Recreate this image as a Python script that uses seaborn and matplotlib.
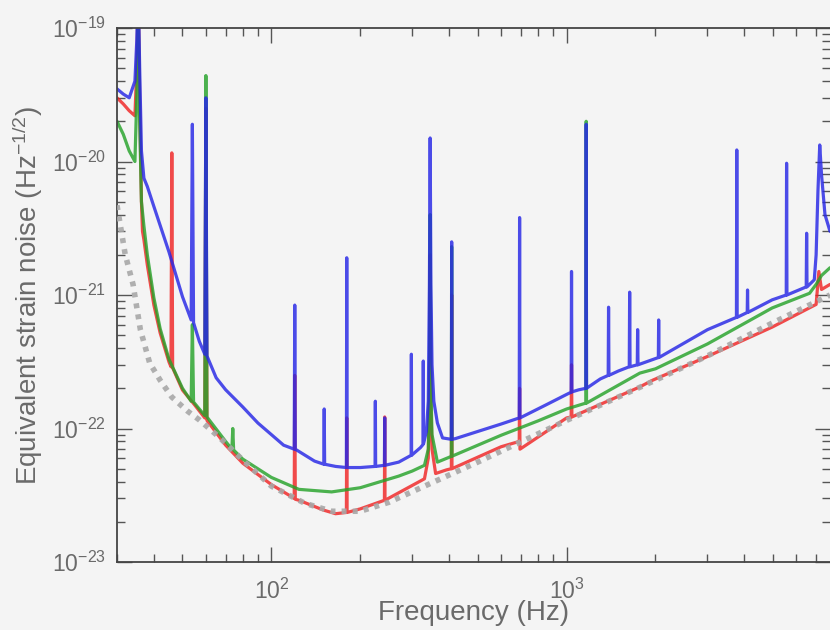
import numpy as np
import pandas as pd
import matplotlib
matplotlib.use("Agg")
import matplotlib.pyplot as plt
import seaborn as sns
from matplotlib.ticker import LogLocator, NullFormatter

# ---------------- data (Hz, strain / sqrt(Hz)) ----------------
blue_f = [30, 31.5, 33, 34.5, 35.0, 35.4, 35.8, 36.3, 37, 38, 40, 45, 50,
          53.5, 54, 54.5, 57, 59.5, 60, 60.5, 65, 70, 80, 90, 100, 110,
          119.5, 120, 120.5, 140, 150.5, 151, 151.5, 165, 179.5, 180, 180.5,
          200, 224.5, 225, 225.5, 241.5, 242, 242.5, 270, 297.5, 298, 298.5,
          320, 326.5, 327, 327.5, 335, 340, 343, 345, 347, 350, 355, 365, 380,
          407, 408, 409, 420, 500, 600, 691, 693, 695, 850, 1000, 1036, 1039,
          1042, 1100, 1162, 1165, 1168, 1300, 1383, 1387, 1391, 1500, 1630,
          1635, 1640, 1735, 1740, 1745, 2045, 2050, 2055, 3000, 3760, 3770,
          3780, 4090, 4100, 4110, 4970, 5545, 5560, 5575, 6480, 6500, 6520,
          6900, 7000, 7100, 7200, 7300, 7500, 7800]
blue_h = [3.5e-20, 3.2e-20, 3.0e-20, 4.0e-20, 8e-20, 2e-19, 5e-20, 1.2e-20,
          7.5e-21, 6.5e-21, 4.6e-21, 2.1e-21, 9.7e-22,
          6.5e-22, 1.9e-20, 6.2e-22, 4.5e-22, 3.6e-22, 3.0e-20, 3.5e-22,
          2.4e-22, 1.95e-22, 1.45e-22, 1.1e-22, 9e-23, 7.5e-23,
          7.0e-23, 8.4e-22, 7.0e-23, 5.7e-23, 5.4e-23, 1.4e-22, 5.4e-23,
          5.2e-23, 5.1e-23, 1.9e-21, 5.1e-23,
          5.1e-23, 5.2e-23, 1.6e-22, 5.2e-23, 5.3e-23, 1.2e-22, 5.3e-23,
          5.6e-23, 6.3e-23, 3.6e-22, 6.3e-23,
          7.2e-23, 7.6e-23, 3.2e-22, 7.7e-23, 9.5e-23, 1.6e-22, 1.2e-21,
          1.5e-20, 1.2e-21, 3.0e-22, 1.6e-22, 1.1e-22, 8.5e-23,
          8.3e-23, 2.5e-21, 8.3e-23, 8.4e-23, 9.5e-23, 1.08e-22, 1.2e-22,
          3.8e-21, 1.2e-22, 1.5e-22, 1.8e-22, 1.87e-22, 1.5e-21,
          1.88e-22, 1.95e-22, 2.0e-22, 1.9e-20, 2.0e-22, 2.35e-22, 2.5e-22,
          8.1e-22, 2.5e-22, 2.7e-22, 2.9e-22,
          1.05e-21, 2.9e-22, 3.0e-22, 5.5e-22, 3.0e-22, 3.4e-22, 6.5e-22,
          3.4e-22, 5.5e-22, 6.8e-22, 1.22e-20,
          6.8e-22, 7.4e-22, 1.09e-21, 7.4e-22, 9.2e-22, 1.0e-21, 9.7e-21,
          1.0e-21, 1.15e-21, 2.9e-21, 1.15e-21,
          1.3e-21, 2.0e-21, 6.0e-21, 1.33e-20, 8.0e-21, 4.0e-21, 3.0e-21]

green_f = [30, 31.5, 33, 34.5, 35.0, 35.4, 35.8, 36.3, 37, 38, 40, 42, 45,
           50, 53.5, 54, 54.5, 57, 59.5, 60, 60.5, 70, 73.5, 74, 74.5, 80,
           100, 124, 160, 200, 270, 300, 330, 340, 343, 345, 347, 350, 365,
           401, 407, 408, 409, 600, 800, 1000, 1162, 1165, 1168, 1770, 2000,
           3000, 4970, 6650, 7000, 7300, 7800]
green_h = [2.0e-20, 1.6e-20, 1.2e-20, 1.0e-20, 3e-20, 1.5e-19, 2e-20, 5e-21,
           3.3e-21, 2.0e-21, 9.5e-22, 5.6e-22, 3.3e-22,
           2.0e-22, 1.6e-22, 6e-22, 1.58e-22, 1.4e-22, 1.25e-22, 4.4e-20,
           1.22e-22, 8.0e-23, 7.0e-23, 1.0e-22, 6.9e-23, 5.9e-23,
           4.3e-23, 3.5e-23, 3.35e-23, 3.6e-23, 4.4e-23, 4.8e-23, 5.3e-23,
           7e-23, 2e-22, 4e-21, 2e-22, 9e-23, 5.6e-23,
           6.1e-23, 6.2e-23, 2.3e-21, 6.2e-23, 8.9e-23, 1.14e-22, 1.4e-22,
           1.55e-22, 2.0e-20, 1.55e-22, 2.6e-22, 2.8e-22,
           4.3e-22, 8.0e-22, 1.03e-21, 1.2e-21, 1.4e-21, 1.6e-21]

red_f = [30, 31.5, 33, 34.5, 35.0, 35.4, 35.8, 36.3, 36.6, 37, 38, 40, 42,
         45, 45.7, 46, 46.3, 50, 55, 59.5, 60, 60.5, 70, 80, 100, 119.5, 120,
         120.5, 124, 150, 165, 179.5, 180, 180.5, 200, 241.5, 242, 242.5, 270,
         330, 340, 343, 345, 347, 350, 360, 392, 407, 408, 409, 600, 691, 693,
         695, 1000, 1036, 1039, 1042, 1770, 1956, 2970, 4970, 7000, 7150,
         7300, 7800]
red_h = [3.0e-20, 2.7e-20, 2.4e-20, 2.2e-20, 5e-20, 2e-19, 3e-20, 5e-21,
         3.0e-21, 2.6e-21, 1.68e-21, 8.4e-22, 5.2e-22,
         3.15e-22, 2.9e-22, 1.16e-20, 2.85e-22, 1.94e-22, 1.5e-22, 1.2e-22,
         2.5e-20, 1.15e-22, 7.5e-23, 5.5e-23, 3.8e-23, 3.0e-23, 2.5e-22,
         2.95e-23, 2.9e-23, 2.45e-23, 2.3e-23, 2.35e-23, 1.2e-22, 2.35e-23,
         2.5e-23, 2.9e-23, 1.22e-22, 2.9e-23, 3.3e-23,
         4.2e-23, 6e-23, 2e-22, 2e-21, 1.5e-22, 7e-23, 4.6e-23, 4.9e-23,
         5.0e-23, 1.0e-21, 5.0e-23, 7.3e-23, 8.0e-23, 2.0e-22,
         7.0e-23, 1.2e-22, 1.22e-22, 3e-22, 1.22e-22, 2.05e-22, 2.3e-22,
         3.43e-22, 5.75e-22, 8.5e-22, 1.5e-21, 1.1e-21, 1.2e-21]

design_f = [30, 32, 34, 36, 38.7, 42, 46, 52, 57, 66.6, 80, 100, 130, 160,
            200, 250, 330, 500, 1000, 2000, 3000, 5000, 7800]
design_h = [4.7e-21, 2.0e-21, 1.2e-21, 5.5e-22, 3.1e-22, 2.3e-22, 1.72e-22,
            1.35e-22, 1.16e-22, 8.6e-23, 5.8e-23, 3.7e-23, 2.75e-23, 2.4e-23,
            2.4e-23, 2.8e-23, 3.7e-23, 5.6e-23, 1.15e-22, 2.3e-22, 3.5e-22,
            6.2e-22, 1.0e-21]

x_ticks = [1e2, 1e3]
y_ticks = [1e-23, 1e-22, 1e-21, 1e-20, 1e-19]

# ---------------- style ----------------
sns.set_theme(style="ticks")
plt.rcParams["font.family"] = ["Liberation Sans", "DejaVu Sans"]
plt.rcParams["mathtext.fontset"] = "custom"
plt.rcParams["mathtext.rm"] = "Liberation Sans"
plt.rcParams["mathtext.it"] = "Liberation Sans:italic"
plt.rcParams["mathtext.bf"] = "Liberation Sans:bold"

BG = "#f4f4f4"
fig = plt.figure(figsize=(8.3, 6.3), dpi=100, facecolor=BG)
ax = fig.add_axes([117 / 830, 1 - 562 / 630, (830 - 117) / 830, (562 - 28) / 630])
ax.set_facecolor(BG)

df = pd.concat([
    pd.DataFrame({"freq": red_f, "strain": red_h, "series": "red"}),
    pd.DataFrame({"freq": green_f, "strain": green_h, "series": "green"}),
    pd.DataFrame({"freq": blue_f, "strain": blue_h, "series": "blue"}),
], ignore_index=True)
palette = {"red": "#f02424", "green": "#26a22a", "blue": "#2626e6"}

for name in ["red", "green", "blue"]:
    sub = df[df["series"] == name]
    sns.lineplot(data=sub, x="freq", y="strain", ax=ax, color=palette[name],
                 lw=2.3, alpha=0.82, estimator=None, sort=False, legend=False)

sns.lineplot(x=design_f, y=design_h, ax=ax, color="#a8a8a8", lw=4.0,
             linestyle=(0, (0.9, 1.1)), alpha=0.9, estimator=None, legend=False,
             zorder=5)

ax.set_xscale("log")
ax.set_yscale("log")
ax.set_xlim(30, 7800)
ax.set_ylim(1e-23, 1e-19)
ax.set_xticks(x_ticks)
ax.set_yticks(y_ticks)
ax.xaxis.set_minor_locator(LogLocator(base=10, subs=np.arange(2, 10), numticks=20))
ax.yaxis.set_minor_locator(LogLocator(base=10, subs=np.arange(2, 10), numticks=20))
ax.xaxis.set_minor_formatter(NullFormatter())
ax.yaxis.set_minor_formatter(NullFormatter())

ax.tick_params(which="both", direction="in", top=True, right=True,
               color="#555555", labelcolor="#6a6a6a", width=1.0)
ax.tick_params(which="major", length=11, labelsize=16.5)
ax.tick_params(axis="x", which="major", pad=12)
ax.tick_params(axis="y", which="major", pad=8)
ax.tick_params(which="minor", length=6)

for side in ["left", "bottom", "top"]:
    ax.spines[side].set_color("#444444")
    ax.spines[side].set_linewidth(1.3)
ax.spines["right"].set_visible(False)

ax.set_xlabel("Frequency (Hz)", fontsize=20, color="#6a6a6a", labelpad=-3)
ax.set_ylabel("Equivalent strain noise (Hz$^{-1/2}$)", fontsize=20,
              color="#6a6a6a", labelpad=5)

fig.savefig("out.png", dpi=100, facecolor=BG)
